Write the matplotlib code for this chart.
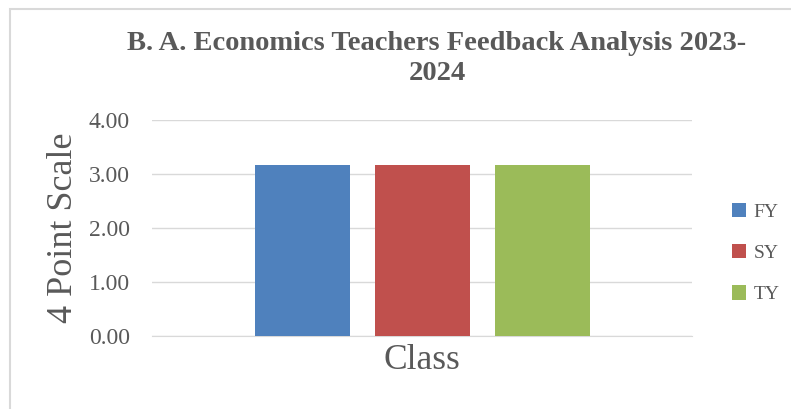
import matplotlib
matplotlib.use("Agg")
import matplotlib.pyplot as plt
from matplotlib.patches import Rectangle

series = ["FY", "SY", "TY"]
values = [3.17, 3.17, 3.17]
colors = ["#4F81BD", "#C0504D", "#9BBB59"]
category = "Class"
yticks = [0.0, 1.0, 2.0, 3.0, 4.0]

plt.rcParams['font.family'] = ['Liberation Serif', 'DejaVu Serif']

W, H = 791, 409
fig = plt.figure(figsize=(W/100, H/100), dpi=100)
fig.patches.append(Rectangle((10/W, -0.1), 1.2, 1.1 - 9/H, transform=fig.transFigure,
                             fill=False, edgecolor="#D9D9D9", linewidth=1.5))

ax = fig.add_axes([152/W, 1 - 336/H, 540/W, 216/H])
bw = 95/540
step = 120/540
for i, (s, v, c) in enumerate(zip(series, values, colors)):
    ax.bar((i - 1) * step, v, width=bw, color=c, label=s, zorder=3)

ax.set_xlim(-0.5, 0.5)
ax.set_ylim(0, 4)
ax.set_yticks(yticks)
ax.set_yticklabels([f"{t:.2f}" for t in yticks], fontsize=17, color="#595959")
ax.set_xticks([])
ax.grid(axis="y", color="#D9D9D9", linewidth=1, zorder=0)
for sp in ["top", "right", "left"]:
    ax.spines[sp].set_visible(False)
ax.spines["bottom"].set_color("#D9D9D9")
ax.tick_params(axis="y", length=0, pad=16)
ax.set_xlabel(category, fontsize=25.5, color="#595959", labelpad=6)
ax.set_ylabel("4 Point Scale", fontsize=26, color="#595959", labelpad=6)

fig.text(437/W, 1 - 43/H, "B. A. Economics Teachers Feedback Analysis 2023-",
         ha="center", va="center", fontsize=20.5, fontweight="bold", color="#595959")
fig.text(437/W, 1 - 73/H, "2024", ha="center", va="center",
         fontsize=20.5, fontweight="bold", color="#595959")

leg = fig.legend(loc="center left", bbox_to_anchor=(714/W, 1 - 253/H), frameon=False,
                 fontsize=14, handlelength=0.75, handleheight=0.75, handletextpad=0.4,
                 labelspacing=1.2, labelcolor="#595959")

fig.savefig("out.png", dpi=100)
